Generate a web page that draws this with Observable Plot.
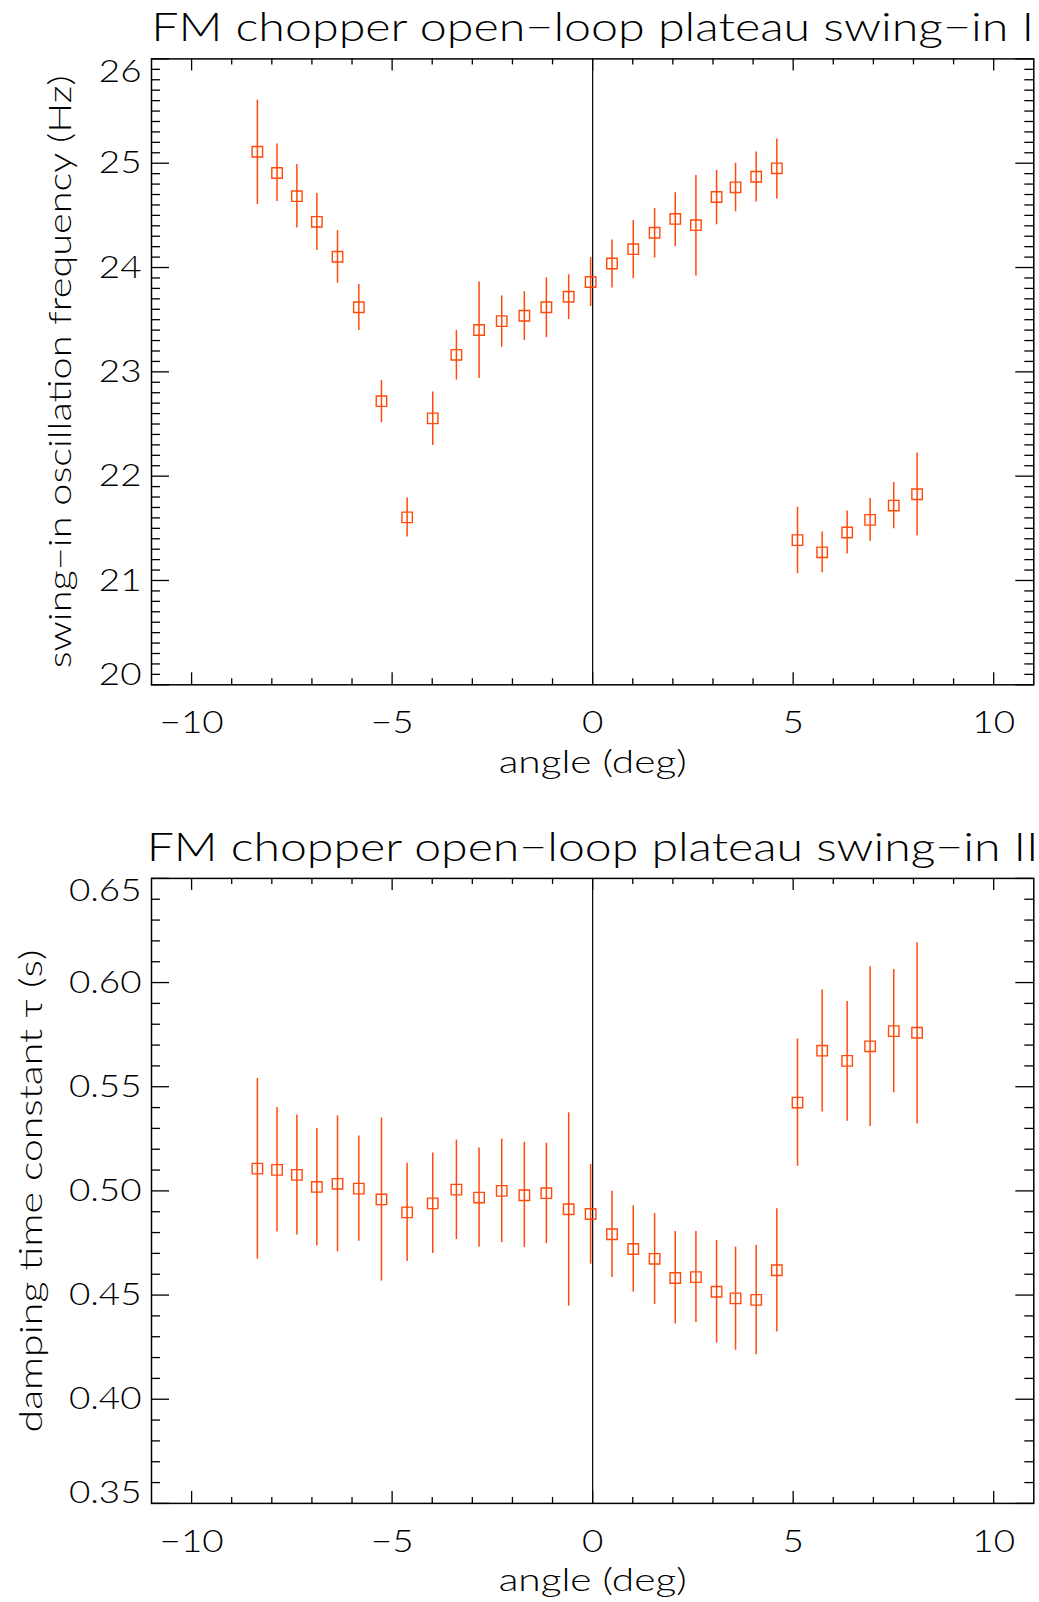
<!DOCTYPE html>
<html>
<head>
<meta charset="utf-8">
<script src="https://cdn.jsdelivr.net/npm/d3@7"></script>
<script src="https://cdn.jsdelivr.net/npm/@observablehq/plot@0.6"></script>
<style>
  body { margin: 0; background: #fff; }
  #chart { width: 1039px; }
  #chart svg { display: block; }
</style>
</head>
<body>
<div id="chart"></div>
<script>
// ---- data ----
const angles = [-8.36, -7.87, -7.375, -6.877, -6.362, -5.83, -5.266, -4.626, -3.987, -3.397, -2.832, -2.267, -1.703, -1.154, -0.598, -0.05,
  0.482, 1.013, 1.545, 2.06, 2.575, 3.09, 3.563, 4.078, 4.593, 5.108, 5.723, 6.346, 6.919, 7.508, 8.09];

const freq   = [25.11, 24.906, 24.684, 24.438, 24.103, 23.619, 22.719, 21.605, 22.554, 23.163, 23.401, 23.486, 23.538, 23.619, 23.72, 23.861,
  24.039, 24.176, 24.333, 24.466, 24.406, 24.676, 24.769, 24.87, 24.951, 21.387, 21.27, 21.46, 21.581, 21.718, 21.827];
const freqHi = [25.604, 25.185, 24.987, 24.709, 24.354, 23.837, 22.917, 21.791, 22.808, 23.397, 23.861, 23.728, 23.768, 23.902, 23.93, 24.095,
  24.265, 24.45, 24.567, 24.717, 24.882, 24.931, 24.999, 25.108, 25.233, 21.702, 21.464, 21.666, 21.787, 21.94, 22.223];
const freqLo = [24.604, 24.632, 24.378, 24.164, 23.849, 23.397, 22.513, 21.416, 22.295, 22.921, 22.937, 23.236, 23.3, 23.329, 23.502, 23.627,
  23.805, 23.894, 24.091, 24.2, 23.918, 24.41, 24.535, 24.628, 24.656, 21.065, 21.073, 21.254, 21.375, 21.496, 21.428];

const tau   = [0.5107, 0.5101, 0.5077, 0.5019, 0.5034, 0.5011, 0.4959, 0.4897, 0.494, 0.5006, 0.4968, 0.50, 0.4979, 0.4989, 0.4912, 0.4889,
  0.4792, 0.4721, 0.4674, 0.4582, 0.4586, 0.4516, 0.4484, 0.4477, 0.4619, 0.5424, 0.5673, 0.5624, 0.5694, 0.5767, 0.5759];
const tauHi = [0.554, 0.540, 0.5364, 0.530, 0.536, 0.5264, 0.535, 0.5133, 0.5182, 0.5244, 0.5206, 0.5249, 0.5234, 0.5229, 0.5375, 0.5126,
  0.4998, 0.4929, 0.4891, 0.4805, 0.4805, 0.4762, 0.473, 0.4739, 0.4914, 0.5729, 0.5964, 0.5909, 0.6076, 0.6063, 0.6191];
const tauLo = [0.4672, 0.4803, 0.4788, 0.4736, 0.4707, 0.4758, 0.4567, 0.4661, 0.47, 0.4766, 0.473, 0.4751, 0.4728, 0.4747, 0.4447, 0.4648,
  0.4584, 0.4514, 0.4454, 0.4361, 0.4368, 0.4269, 0.4235, 0.4214, 0.4323, 0.5118, 0.5379, 0.5334, 0.5309, 0.5471, 0.5321];

const xTicks = [-10, -5, 0, 5, 10];
const xTickLabels = ["\u221210", "\u22125", "0", "5", "10"];
const yTicksTop = [20, 21, 22, 23, 24, 25, 26];
const yTickLabelsTop = ["20", "21", "22", "23", "24", "25", "26"];
const yTicksBot = [0.35, 0.40, 0.45, 0.50, 0.55, 0.60, 0.65];
const yTickLabelsBot = ["0.35", "0.40", "0.45", "0.50", "0.55", "0.60", "0.65"];

const title1 = "FM chopper open\u2212loop plateau swing\u2212in I";
const title2 = "FM chopper open\u2212loop plateau swing\u2212in II";
const xLabel = "angle (deg)";
const yLabel1 = "swing\u2212in oscillation frequency (Hz)";
const yLabel2 = "damping time constant \u03c4 (s)";

// ---- styling ----
const W = 1039;
const FONT = "Lato, 'Open Sans', 'DejaVu Sans', sans-serif";
const ORANGE = "#ff4a0a";
const textLengths = new Map([
  [title1, 883], [title2, 892], [xLabel, 188], [yLabel1, 593], [yLabel2, 483]
]);
const tickLabelStretch = 1.15;

const xMinor = d3.range(-10, 11).filter(v => v % 5 !== 0);

function panel({title, yLabel, vals, lo, hi, yDomain, yTicks, yTickLabels, yMinor, height, marginTop, marginBottom, yLabelDx}) {
  const data = angles.map((a, i) => ({a, v: vals[i], lo: lo[i], hi: hi[i]}));
  const mL = 151, mR = 5.7;
  const fw = W - mL - mR;
  const fh = height - marginTop - marginBottom;
  const n = yTicks.length;
  const tickStyle = {stroke: "black", strokeWidth: 1.3};
  const txt = {fontSize: 32, fontWeight: 300, fill: "black"};
  const svg = Plot.plot({
    width: W, height, marginTop, marginBottom, marginLeft: mL, marginRight: mR,
    style: {fontFamily: FONT, background: "white", overflow: "visible"},
    x: {domain: [-11, 11], axis: null},
    y: {domain: yDomain, axis: null},
    marks: [
      Plot.ruleX([0], {stroke: "black", strokeWidth: 1.2}),
      // inward ticks, bottom & top
      Plot.tickX(xTicks, {x: d => d, ...tickStyle, insetTop: fh - 12}),
      Plot.tickX(xTicks, {x: d => d, ...tickStyle, insetBottom: fh - 12}),
      Plot.tickX(xMinor, {x: d => d, ...tickStyle, insetTop: fh - 6}),
      Plot.tickX(xMinor, {x: d => d, ...tickStyle, insetBottom: fh - 6}),
      // inward ticks, left & right
      Plot.tickY(yTicks, {y: d => d, ...tickStyle, insetRight: fw - 18}),
      Plot.tickY(yTicks, {y: d => d, ...tickStyle, insetLeft: fw - 18}),
      Plot.tickY(yMinor, {y: d => d, ...tickStyle, insetRight: fw - 9}),
      Plot.tickY(yMinor, {y: d => d, ...tickStyle, insetLeft: fw - 9}),
      // data
      Plot.ruleX(data, {x: "a", y1: "lo", y2: "hi", stroke: ORANGE, strokeWidth: 1.5}),
      Plot.dot(data, {x: "a", y: "v", symbol: "square", r: 5.9, stroke: ORANGE, strokeWidth: 1.4, fill: "none"}),
      Plot.frame({stroke: "black", strokeWidth: 1.5}),
      // tick labels
      Plot.text(xTicks, {x: d => d, text: (d, i) => xTickLabels[i], frameAnchor: "bottom",
        textAnchor: "middle", lineAnchor: "middle", dy: 38, ...txt}),
      Plot.text(yTicks, {y: d => d, text: (d, i) => yTickLabels[i], filter: (d, i) => i > 0 && i < n - 1,
        frameAnchor: "left", textAnchor: "end", lineAnchor: "middle", dx: -10, ...txt}),
      Plot.text(yTicks, {y: d => d, text: (d, i) => yTickLabels[i], filter: (d, i) => i === 0,
        frameAnchor: "left", textAnchor: "end", lineAnchor: "bottom", dx: -10, ...txt}),
      Plot.text(yTicks, {y: d => d, text: (d, i) => yTickLabels[i], filter: (d, i) => i === n - 1,
        frameAnchor: "left", textAnchor: "end", lineAnchor: "top", dx: -10, ...txt}),
      // titles & axis labels
      Plot.text([title], {text: d => d, frameAnchor: "top", textAnchor: "middle", lineAnchor: "middle",
        dy: -30.4, ...txt, fontSize: 40}),
      Plot.text([xLabel], {text: d => d, frameAnchor: "bottom", textAnchor: "middle", lineAnchor: "middle",
        dy: 77.5, ...txt}),
      Plot.text([yLabel], {text: d => d, frameAnchor: "left", textAnchor: "middle", lineAnchor: "middle",
        dx: yLabelDx, rotate: -90, ...txt})
    ]
  });
  return svg;
}

// widen glyphs to resemble the wide vector font of the original
function widenTexts(svg) {
  d3.select(svg).selectAll("text").each(function () {
    const t = this.textContent;
    let L = textLengths.get(t);
    if (!L) L = this.getComputedTextLength() * tickLabelStretch;
    if (L > 0) {
      this.setAttribute("textLength", L);
      this.setAttribute("lengthAdjust", "spacingAndGlyphs");
    }
  });
}

const yMinorTop = d3.range(201, 260).filter(k => k % 10 !== 0).map(k => k / 10);
const yMinorBot = d3.range(35, 66).filter(k => k % 5 !== 0).map(k => k / 100);

const chart = document.getElementById("chart");
const svg1 = panel({
  title: title1, yLabel: yLabel1, vals: freq, lo: freqLo, hi: freqHi,
  yDomain: [20, 26], yTicks: yTicksTop, yTickLabels: yTickLabelsTop, yMinor: yMinorTop,
  height: 800, marginTop: 58.4, marginBottom: 115.7, yLabelDx: -91
});
const svg2 = panel({
  title: title2, yLabel: yLabel2, vals: tau, lo: tauLo, hi: tauHi,
  yDomain: [0.35, 0.65], yTicks: yTicksBot, yTickLabels: yTickLabelsBot, yMinor: yMinorBot,
  height: 802, marginTop: 77.9, marginBottom: 99.1, yLabelDx: -120
});
chart.appendChild(svg1);
chart.appendChild(svg2);
widenTexts(svg1);
widenTexts(svg2);
</script>
</body>
</html>
